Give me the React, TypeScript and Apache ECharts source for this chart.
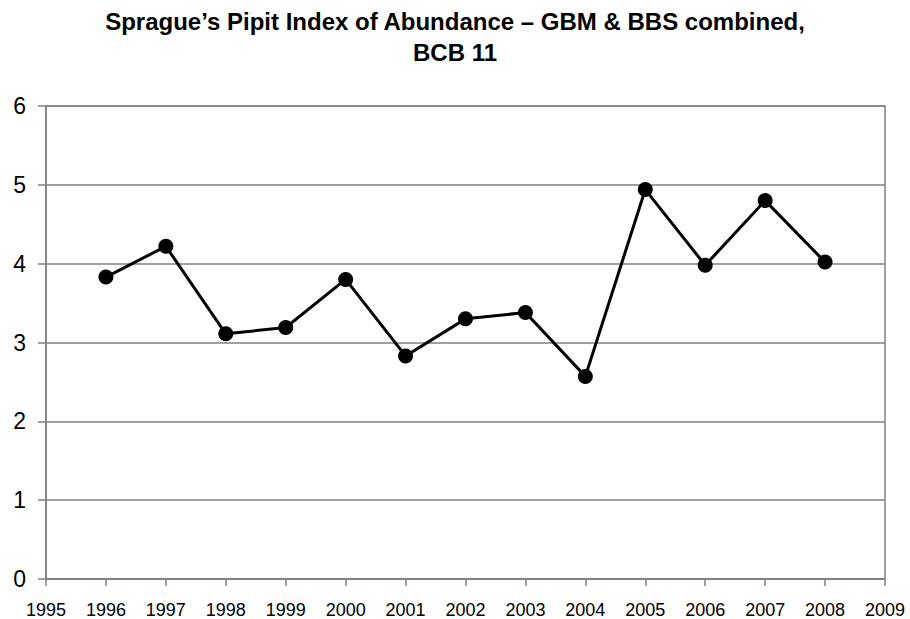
import React, { useEffect, useRef } from "react";
import * as echarts from "echarts";

const years = [1996, 1997, 1998, 1999, 2000, 2001, 2002, 2003, 2004, 2005, 2006, 2007, 2008];
const abundance = [3.83, 4.22, 3.11, 3.19, 3.8, 2.83, 3.3, 3.38, 2.57, 4.94, 3.98, 4.8, 4.02];
const titleLines = ["Sprague\u2019s Pipit Index of Abundance \u2013 GBM & BBS combined,", "BCB 11"];

export default function App() {
  const ref = useRef<HTMLDivElement>(null);
  useEffect(() => {
    if (!ref.current) return;
    const chart = echarts.init(ref.current, null, { renderer: "svg" });
    const font = "Liberation Sans, Arial, sans-serif";
    chart.setOption({
      animation: false,
      backgroundColor: "#ffffff",
      title: {
        text: titleLines.join("\n"),
        left: "center",
        top: 1,
        textStyle: {
          fontFamily: font,
          fontWeight: "bold",
          fontSize: 24,
          lineHeight: 31,
          color: "#000000",
        },
      },
      grid: {
        left: 46,
        right: 25,
        top: 106,
        bottom: 40,
        show: true,
        borderColor: "#808080",
        borderWidth: 1.5,
      },
      xAxis: {
        type: "value",
        min: 1995,
        max: 2009,
        interval: 1,
        axisLine: { show: true, lineStyle: { color: "#808080", width: 1.5 } },
        axisTick: { show: true, inside: false, length: 7, lineStyle: { color: "#808080", width: 1.5 } },
        splitLine: { show: false },
        axisLabel: {
          fontFamily: font,
          fontSize: 18,
          color: "#000000",
          margin: 22,
          formatter: (v: number) => String(v),
        },
      },
      yAxis: {
        type: "value",
        min: 0,
        max: 6,
        interval: 1,
        axisLine: { show: true, lineStyle: { color: "#808080", width: 1.5 } },
        axisTick: { show: true, inside: false, length: 8, lineStyle: { color: "#808080", width: 1.5 } },
        splitLine: { show: true, lineStyle: { color: "#808080", width: 1.5 } },
        axisLabel: {
          fontFamily: font,
          fontSize: 23,
          color: "#000000",
          margin: 20,
          padding: [6, 0, 0, 0],
        },
      },
      series: [
        {
          type: "line",
          data: years.map((y, i) => [y, abundance[i]]),
          symbol: "circle",
          symbolSize: 15,
          lineStyle: { color: "#000000", width: 3 },
          itemStyle: { color: "#000000" },
        },
      ],
    });
    return () => chart.dispose();
  }, []);
  return (
    <div
      ref={ref}
      style={{ position: "fixed", left: 0, top: 0, width: 910, height: 619 }}
    />
  );
}
